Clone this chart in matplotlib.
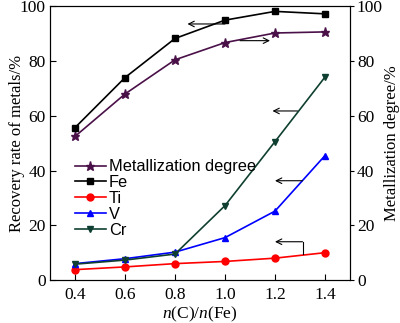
import matplotlib.pyplot as plt

ratio = [0.4, 0.6, 0.8, 1.0, 1.2, 1.4]
metallization = [52.5, 68.0, 80.5, 86.8, 90.3, 90.7]
fe = [55.7, 74.0, 88.3, 95.0, 98.2, 97.3]
ti = [3.8, 4.8, 6.0, 6.8, 8.0, 10.0]
v = [6.0, 7.8, 10.2, 15.5, 25.2, 45.5]
cr = [5.8, 7.3, 9.5, 27.2, 50.6, 74.2]

serif = 'Liberation Serif'
sans = 'Liberation Sans'
plt.rcParams['mathtext.fontset'] = 'custom'
plt.rcParams['mathtext.it'] = 'Liberation Serif:italic'
plt.rcParams['mathtext.rm'] = 'Liberation Serif'

fig = plt.figure(figsize=(4.0, 3.23), dpi=100)
ax = fig.add_axes([0.125, 0.133, 0.75, 0.847])
ax2 = ax.twinx()

kw = dict(lw=1.2, ms=5)
ax.plot(ratio, metallization, '-*', color='#4a1048', label='Metallization degree', **dict(kw, ms=6.5))
ax.plot(ratio, fe, '-s', color='black', label='Fe', **kw)
ax.plot(ratio, ti, '-o', color='#ff0000', label='Ti', **kw)
ax.plot(ratio, v, '-^', color='#0000ff', label='V', **kw)
ax.plot(ratio, cr, '-v', color='#0f3f30', label='Cr', **kw)

arr = dict(arrowstyle='->', color='black', lw=0.8, shrinkA=0, shrinkB=0)
ax.annotate('', xy=(0.85, 93.6), xytext=(1.0, 93.6), arrowprops=arr)
ax.annotate('', xy=(1.18, 87.5), xytext=(1.06, 87.5), arrowprops=arr)
ax.annotate('', xy=(1.19, 61.8), xytext=(1.29, 61.8), arrowprops=arr)
ax.annotate('', xy=(1.20, 36.3), xytext=(1.31, 36.3), arrowprops=arr)
ax.plot([1.31, 1.31], [9.6, 14.0], color='black', lw=0.8)
ax.annotate('', xy=(1.20, 14.0), xytext=(1.31, 14.0), arrowprops=arr)

ax.set_xlim(0.3, 1.5)
ax.set_ylim(0, 100)
ax2.set_ylim(0, 100)
ax.set_xticks(ratio)
ax.set_yticks([0, 20, 40, 60, 80, 100])
ax2.set_yticks([0, 20, 40, 60, 80, 100])
ax.tick_params(direction='in', length=4, width=0.8, labelsize=12.5, pad=3)
ax.tick_params(axis='x', pad=5)
ax2.tick_params(direction='out', length=3, width=0.8, labelsize=12.5, pad=2)
for a in (ax, ax2):
    for lab in a.get_xticklabels() + a.get_yticklabels():
        lab.set_fontfamily(serif)
ax.set_xlabel('$n$(C)/$n$(Fe)', fontsize=12.5, fontfamily=serif, labelpad=1.5)
ax.set_ylabel('Recovery rate of metals/%', fontsize=12, fontfamily=serif)
ax2.set_ylabel('Metallization degree/%', fontsize=12, fontfamily=serif)
ax.yaxis.set_label_coords(-0.083, 0.5)
ax2.yaxis.set_label_coords(1.113, 0.5)

ax.legend(loc='upper left', bbox_to_anchor=(0.06, 0.465), frameon=False,
          prop={'family': sans, 'size': 11.8}, handlelength=1.9,
          handletextpad=0.2, labelspacing=0.05, borderaxespad=0)

fig.savefig('out.png', dpi=100)
